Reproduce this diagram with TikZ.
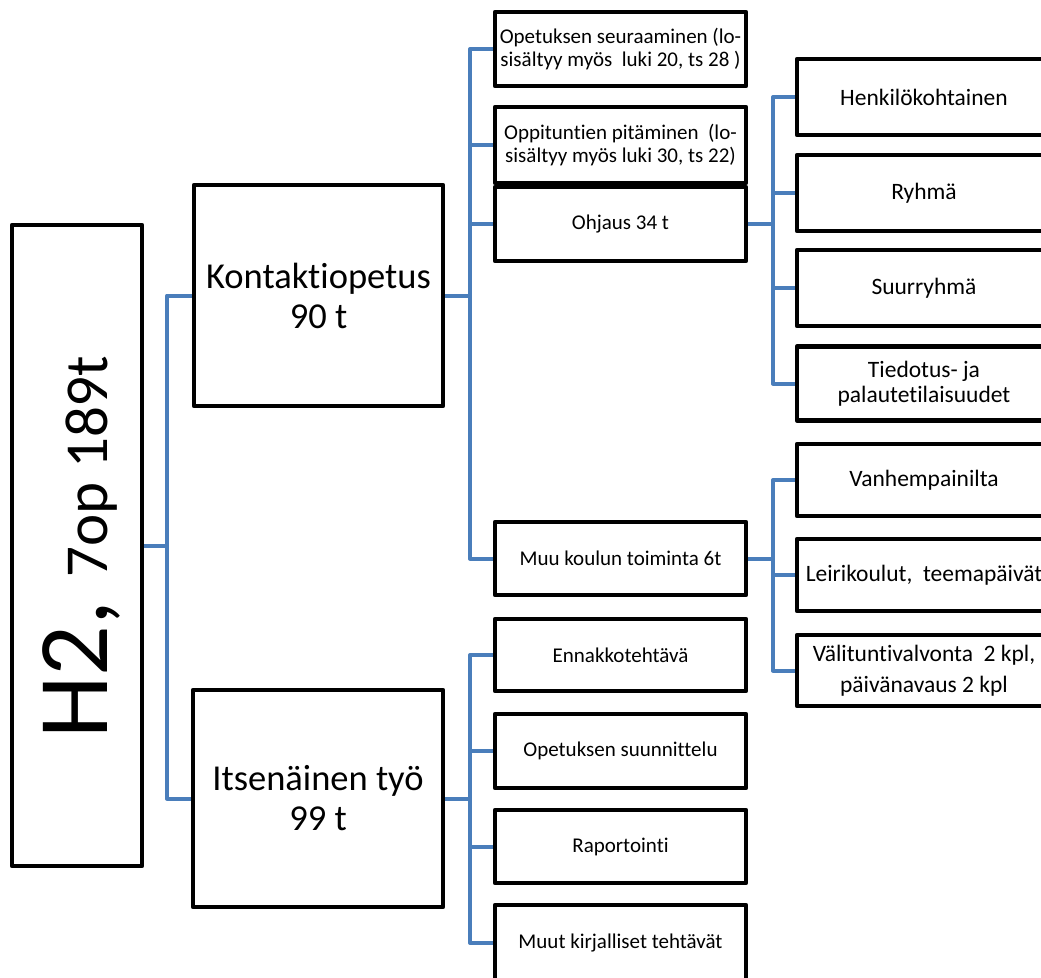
\documentclass[tikz,border=0pt]{standalone}
\usepackage{fontspec}
\setmainfont{Carlito}[Ligatures={NoCommon,NoRequired,NoContextual}]
\usetikzlibrary{backgrounds}
\definecolor{blueline}{RGB}{74,126,187}
\begin{document}
\begin{tikzpicture}[x=1pt,y=-1pt,
  box/.style={draw=black, line width=4.5pt, line join=round, rectangle, inner sep=0pt, align=center, fill=white},
  conn/.style={draw=blueline, line width=4pt, line join=round, line cap=round},
  fL/.style={font=\fontsize{21}{22.5}\selectfont},
  fR/.style={font=\fontsize{23.5}{25}\selectfont},
  fK/.style={font=\fontsize{36.5}{40}\selectfont},
  colL/.style={box, fL, minimum width=251pt},
  colR/.style={box, fR, minimum width=254pt}]
\useasboundingbox (0,0) rectangle (1041,977);
\clip (0,0) rectangle (1041,977);

% root
\node[box, minimum width=130pt, minimum height=641pt] (root) at (77,545.5) {};
\node[rotate=90, anchor=base, inner sep=0pt] (roottext) at (107,547)
  {\fontsize{100}{100}\selectfont H2,\ \fontsize{61}{61}\selectfont 7op 189t};

% level 1
\node[box, fK, minimum width=249pt, minimum height=221pt] (K) at (318.5,295.5) {Kontaktiopetus\\90 t};
\node[box, fK, minimum width=250pt, minimum height=217pt] (I) at (318,798.5) {Itsenäinen työ\\99 t};

% level 2 (left column)
\node[colL, minimum height=74pt] (A1) at (620.5,49) {Opetuksen seuraaminen (lo-\\sisältyy myös\ \ luki 20, ts 28 )};
\node[colL, minimum height=76pt] (A2) at (620.5,145) {Oppituntien pitäminen\ \ (lo-\\sisältyy myös luki 30, ts 22)};
\node[colL, minimum height=74pt] (A3) at (620.5,224) {Ohjaus 34 t};
\node[colL, minimum height=73pt] (A4) at (620.5,558.5) {Muu koulun toiminta 6t};

\node[colL, minimum height=72pt] (B1) at (620.5,655) {Ennakkotehtävä};
\node[colL, minimum height=74pt] (B2) at (620.5,751) {Opetuksen suunnittelu};
\node[colL, minimum height=73pt] (B3) at (620.5,846.5) {Raportointi};
\node[colL, minimum height=76pt] (B4) at (620.5,943) {Muut kirjalliset tehtävät};

% level 3 (right column)
\node[colR, minimum height=76pt] (C1) at (924,97) {Henkilökohtainen};
\node[colR, minimum height=76pt] (C2) at (924,193) {Ryhmä};
\node[colR, minimum height=76pt] (C3) at (924,288) {Suurryhmä};
\node[colR, minimum height=74pt] (C4) at (924,383.5) {Tiedotus- ja\\palautetilaisuudet};

\node[colR, minimum height=72pt] (D1) at (924,480) {Vanhempainilta};
\node[colR, minimum height=72pt] (D2) at (924,575) {Leirikoulut,\ \ teemapäivät};
\node[colR, minimum height=71pt, font=\fontsize{23.5}{31}\selectfont] (D3) at (924,670.5) {Välituntivalvonta\ \ 2 kpl,\\päivänavaus 2 kpl};

% bus positions
\coordinate (b1) at (167,0);
\coordinate (b2) at (470,0);
\coordinate (b3) at (773,0);

\begin{scope}[on background layer]
  \draw[conn] (root.east) -- (root.east -| b1) |- (K.west);
  \draw[conn] (root.east -| b1) |- (I.west);

  \foreach \c in {A1,A2,A3,A4}
    \draw[conn] (K.east) -- (K.east -| b2) |- (\c.west);
  \foreach \c in {B1,B2,B3,B4}
    \draw[conn] (I.east) -- (I.east -| b2) |- (\c.west);

  \foreach \c in {C1,C2,C3,C4}
    \draw[conn] (A3.east) -- (A3.east -| b3) |- (\c.west);
  \foreach \c in {D1,D2,D3}
    \draw[conn] (A4.east) -- (A4.east -| b3) |- (\c.west);
\end{scope}
\end{tikzpicture}
\end{document}
